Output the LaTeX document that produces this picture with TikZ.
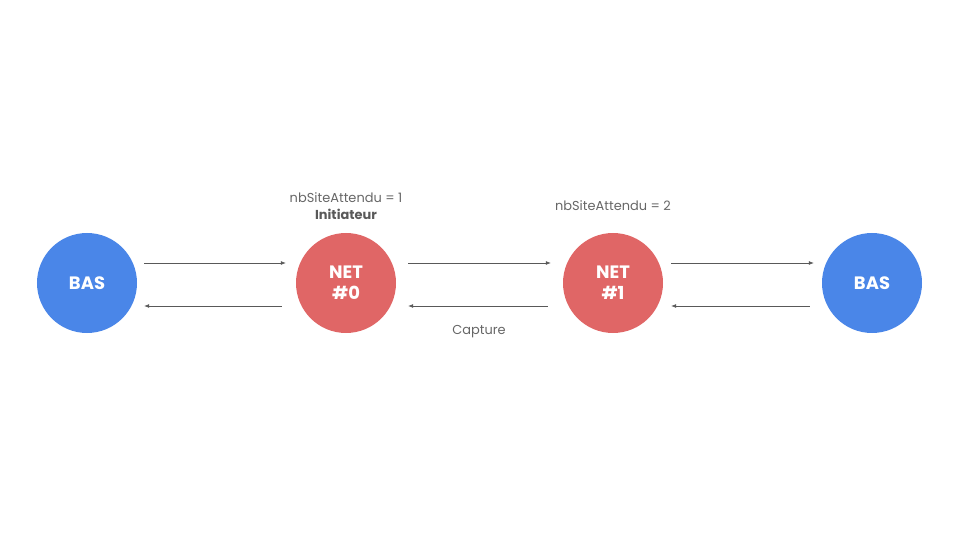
\documentclass[tikz,border=0pt]{standalone}
\usepackage{fontspec}
\setmainfont{Poppins}
\usetikzlibrary{arrows.meta}
\definecolor{basblue}{HTML}{4A86E8}
\definecolor{netred}{HTML}{E06666}
\definecolor{txtgray}{HTML}{595959}
\definecolor{lblgray}{HTML}{666666}
\tikzset{
  site/.style={circle, minimum size=100bp, inner sep=0pt, text=white, font=\fontsize{18}{22}\selectfont\bfseries, align=center},
  bas/.style={site, fill=basblue},
  net/.style={site, fill=netred},
  arr/.style={draw=txtgray, line width=0.7bp, -{Latex[length=5bp,width=4bp]}},
  lbl/.style={text=lblgray, font=\fontsize{13}{15}\selectfont, inner sep=0pt, align=center}
}
\begin{document}
\begin{tikzpicture}[x=1bp,y=-1bp]
\useasboundingbox (0,0) rectangle (960,540);
\node[bas] (b1) at (87,283) {BAS};
\node[net] (n0) at (346,283) {\raisebox{-1bp}{\shortstack{NET\\[5bp]\#0}}};
\node[net] (n1) at (613,283) {\raisebox{-1bp}{\shortstack{NET\\[5bp]\#1}}};
\node[bas] (b2) at (872,283) {BAS};

\draw[arr] ([xshift=7bp,yshift=20bp]b1.east) coordinate (a1) -- ([xshift=-10bp]a1 -| n0.west);
\draw[arr] ([xshift=-14bp,yshift=-23bp]n0.west) coordinate (a2) -- ([xshift=7bp]a2 -| b1.east);
\draw[arr] ([xshift=12bp,yshift=20bp]n0.east) coordinate (a3) -- ([xshift=-12bp]a3 -| n1.west);
\draw[arr] ([xshift=-15bp,yshift=-23bp]n1.west) coordinate (a4) -- ([xshift=12bp]a4 -| n0.east);
\draw[arr] ([xshift=8bp,yshift=20bp]n1.east) coordinate (a5) -- ([xshift=-8bp]a5 -| b2.west);
\draw[arr] ([xshift=-12bp,yshift=-23bp]b2.west) coordinate (a6) -- ([xshift=8bp]a6 -| n1.east);

\node[lbl] (t0) at (346,198) {nbSiteAttendu = 1};
\node[lbl, text=txtgray, font=\fontsize{13}{15}\selectfont\bfseries] (i0) at (346,214) {Initiateur};
\node[lbl] (t1) at (613,206) {nbSiteAttendu = 2};
\node[lbl] (cap) at (479,332) {Capture};
\end{tikzpicture}
\end{document}
